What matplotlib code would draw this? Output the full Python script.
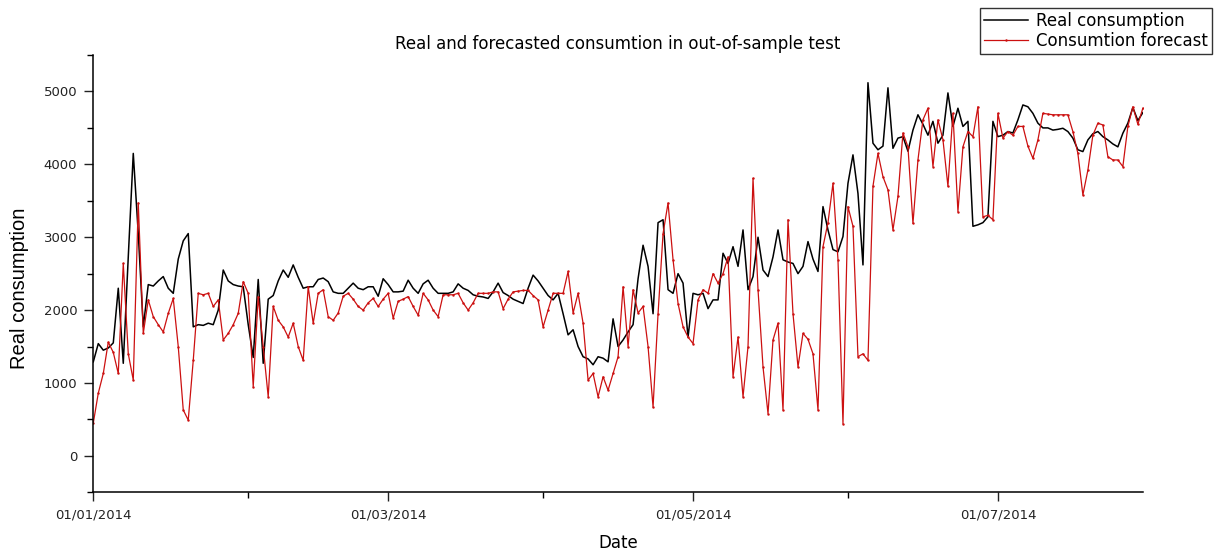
import numpy as np
import pandas as pd
import matplotlib
matplotlib.use('Agg')
import matplotlib.pyplot as plt
import matplotlib.dates as mdates
from matplotlib.ticker import MultipleLocator

start_date = '2014-01-01'

# daily real consumption
real_consumption = [
    1290, 1540, 1450, 1480, 1550, 2300, 1270, 2730, 4150, 3050,
    1770, 2350, 2330, 2400, 2460, 2300, 2230, 2700, 2950, 3050,
    1770, 1800, 1790, 1820, 1800, 2000, 2550, 2400, 2350, 2330,
    2320, 1800, 1350, 2420, 1270, 2150, 2200, 2400, 2550, 2450,
    2620, 2450, 2300, 2320, 2320, 2420, 2440, 2390, 2250, 2230,
    2230, 2300, 2370, 2300, 2280, 2320, 2320, 2190, 2430, 2350,
    2250, 2250, 2260, 2410, 2300, 2230, 2360, 2410, 2300, 2230,
    2230, 2230, 2250, 2360, 2300, 2270, 2210, 2190, 2180, 2160,
    2250, 2370, 2240, 2200, 2150, 2120, 2090, 2300, 2480, 2400,
    2300, 2200, 2140, 2230, 1950, 1660, 1730, 1500, 1360, 1330,
    1250, 1360, 1340, 1290, 1880, 1500, 1590, 1700, 1800, 2430,
    2890, 2600, 1950, 3200, 3240, 2280, 2230, 2500, 2370, 1630,
    2230, 2210, 2230, 2020, 2140, 2140, 2780, 2640, 2870, 2600,
    3100, 2280, 2460, 3000, 2550, 2460, 2730, 3100, 2690, 2660,
    2640, 2500, 2600, 2940, 2700, 2530, 3420, 3100, 2830, 2800,
    3010, 3740, 4130, 3600, 2620, 5120, 4290, 4200, 4250, 5050,
    4220, 4360, 4380, 4180, 4470, 4680, 4550, 4400, 4590, 4290,
    4400, 4980, 4520, 4770, 4520, 4590, 3150, 3170, 3200, 3280,
    4590, 4380, 4400, 4450, 4430, 4610, 4815, 4790, 4700, 4565,
    4500, 4500, 4470, 4480, 4495, 4450, 4360, 4200, 4175, 4335,
    4420, 4450, 4380, 4335, 4280, 4240, 4427, 4565, 4780, 4600,
    4710,
]

# daily forecast
forecast = [
    450, 860, 1130, 1560, 1420, 1130, 2640, 1400, 1040, 3470,
    1680, 2140, 1910, 1800, 1700, 1955, 2160, 1500, 630, 490,
    1310, 2230, 2210, 2230, 2050, 2140, 1590, 1680, 1800, 1955,
    2390, 2230, 950, 2185, 1500, 810, 2050, 1860, 1770, 1630,
    1820, 1500, 1310, 2320, 1820, 2230, 2280, 1910, 1860, 1960,
    2190, 2230, 2150, 2050, 2000, 2100, 2160, 2050, 2150, 2230,
    1890, 2120, 2150, 2185, 2050, 1930, 2230, 2140, 2000, 1910,
    2210, 2210, 2210, 2230, 2100, 2000, 2100, 2230, 2230, 2230,
    2250, 2250, 2020, 2150, 2250, 2260, 2270, 2270, 2200, 2140,
    1770, 2000, 2230, 2230, 2230, 2530, 1960, 2230, 1820, 1040,
    1130, 810, 1085, 900, 1130, 1360, 2320, 1500, 2280, 1960,
    2050, 1500, 670, 1950, 3050, 3470, 2690, 2090, 1770, 1630,
    1540, 2140, 2280, 2230, 2500, 2370, 2500, 2730, 1085, 1630,
    810, 1500, 3810, 2280, 1220, 580, 1590, 1820, 630, 3240,
    1950, 1220, 1680, 1600, 1400, 630, 2870, 3200, 3740, 2690,
    440, 3420, 3150, 1360, 1400, 1310, 3700, 4150, 3830, 3650,
    3100, 3560, 4430, 4240, 3190, 4060, 4610, 4770, 3970, 4610,
    4340, 3700, 4700, 3350, 4240, 4450, 4380, 4790, 3280, 3300,
    3240, 4700, 4360, 4450, 4400, 4520, 4520, 4250, 4083, 4335,
    4700, 4690, 4680, 4680, 4680, 4680, 4450, 4150, 3580, 3920,
    4400, 4565, 4540, 4105, 4060, 4060, 3970, 4520, 4790, 4550,
    4770,
]

y_ticks = [0, 1000, 2000, 3000, 4000, 5000]


def make_plot():
    dates = pd.date_range(start_date, periods=len(real_consumption), freq='D')

    fig = plt.figure(figsize=(12.21, 5.53), dpi=100)
    ax = fig.add_axes([0.0764, 0.1098, 0.8596, 0.7907])

    ax.plot(dates, real_consumption, color='black', lw=1.1, label='Real consumption')
    ax.plot(dates, forecast, color='#cc1010', lw=0.9, marker='.', markersize=1.5,
            label='Consumtion forecast')

    ax.set_xlim(dates[0], dates[-1])
    ax.set_ylim(-500, 5500)
    ax.set_yticks(y_ticks)
    ax.yaxis.set_minor_locator(MultipleLocator(500))
    ax.xaxis.set_major_locator(mdates.MonthLocator(bymonth=[1, 3, 5, 7]))
    ax.xaxis.set_minor_locator(mdates.MonthLocator(bymonth=[2, 4, 6]))
    ax.xaxis.set_major_formatter(mdates.DateFormatter('%d/%m/%Y'))

    for side in ['top', 'right']:
        ax.spines[side].set_visible(False)
    for side in ['left', 'bottom']:
        ax.spines[side].set_linewidth(1.1)
    ax.tick_params(which='major', direction='out', length=6.5, width=1.0,
                   labelsize=9.5, pad=5, colors='#222222')
    ax.tick_params(which='minor', direction='out', length=4, width=1.0)

    ax.set_title('Real and forecasted consumtion in out-of-sample test',
                 fontsize=12, pad=4)
    ax.set_xlabel('Date', fontsize=12, labelpad=9)
    fig.text(20 / 1221, 1 - 288 / 553, 'Real consumption', rotation=90,
             ha='center', va='center', fontsize=14.5, family='Liberation Sans')

    leg = fig.legend(loc='upper right', bbox_to_anchor=(1212 / 1221, 1 - 8 / 553),
                     fontsize=12, frameon=True, fancybox=False, handlelength=2.6,
                     labelspacing=0.1, borderpad=0.25, handletextpad=0.5,
                     borderaxespad=0)
    leg.get_frame().set_edgecolor('black')
    leg.get_frame().set_linewidth(1.0)

    fig.savefig('out.png', dpi=100)


def main():
    make_plot()


if __name__ == "__main__":
    main()
